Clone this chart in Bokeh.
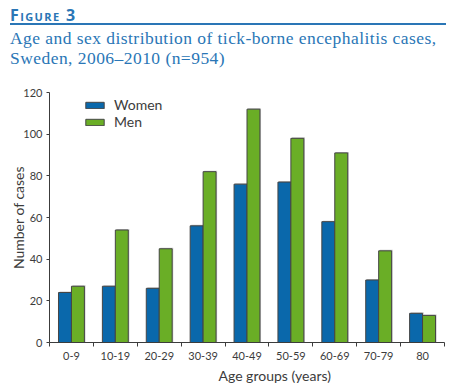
from bokeh.plotting import figure
from bokeh.models import Range1d, FixedTicker, Legend, LegendItem, ColumnDataSource, Title, Div
from bokeh.layouts import column
from bokeh.embed import file_html
from bokeh.resources import INLINE

# ---- data ----
age_groups = ["0-9", "10-19", "20-29", "30-39", "40-49", "50-59", "60-69", "70-79", "80"]
women = [24, 27, 26, 56, 76, 77, 58, 30, 14]
men = [27, 54, 45, 82, 112, 98, 91, 44, 13]
y_ticks = [0, 20, 40, 60, 80, 100, 120]

figure_label = "Figure 3"
subtitle = ["Age and sex distribution of tick-borne encephalitis cases,",
            "Sweden, 2006\u20132010 (n=954)"]
x_title = "Age groups (years)"
y_title = "Number of cases"

BLUE = "#0a68ab"
GREEN = "#6aae26"
TITLE_BLUE = "#2a76b6"
DARK = "#3c3c3c"
FONT = "Lato"

W = 467
HEAD_H = 84

# ---- header (HTML text) ----
head_html = f"""
<div style="position:relative;width:{W}px;height:{HEAD_H}px;">
  <div style="position:absolute;left:10px;top:7px;font-family:'Open Sans';font-weight:bold;
              font-variant:small-caps;font-size:16px;line-height:16px;letter-spacing:1.4px;
              color:{TITLE_BLUE};white-space:nowrap;">{figure_label}</div>
  <div style="position:absolute;left:10px;top:23px;width:436px;height:1.6px;background:{TITLE_BLUE};"></div>
  <div style="position:absolute;left:10px;top:28px;font-family:'Liberation Serif';font-size:17.5px;
              line-height:20px;letter-spacing:0.45px;color:{TITLE_BLUE};white-space:nowrap;">{subtitle[0]}<br>{subtitle[1]}</div>
</div>
"""
head = Div(text=head_html, width=W, height=HEAD_H, margin=0)

# ---- chart ----
n = len(age_groups)
centers = [i + 0.5 for i in range(n)]
bw = 0.295
src = ColumnDataSource(dict(
    xw=[c - bw / 2 for c in centers], xm=[c + bw / 2 for c in centers],
    women=women, men=men,
    xw_s=[c - bw / 2 + 0.025 for c in centers], xm_s=[c + bw / 2 + 0.025 for c in centers],
    women_s=[v + 0.5 for v in women], men_s=[v + 0.5 for v in men],
))

p = figure(width=W, height=390 - HEAD_H, x_range=Range1d(0, n), y_range=Range1d(0, y_ticks[-1]),
           output_backend="svg", toolbar_location=None,
           min_border_left=49, min_border_right=23, min_border_top=8, min_border_bottom=48,
           outline_line_color=None, margin=0)
p.grid.visible = False

p.vbar(x="xw_s", top="women_s", width=bw, bottom=0, fill_color="#c8c8c8", line_color=None, source=src)
p.vbar(x="xm_s", top="men_s", width=bw, bottom=0, fill_color="#c8c8c8", line_color=None, source=src)
rw = p.vbar(x="xw", top="women", width=bw, bottom=0, fill_color=BLUE, line_color="#454545",
            line_width=1, source=src)
rm = p.vbar(x="xm", top="men", width=bw, bottom=0, fill_color=GREEN, line_color="#454545",
            line_width=1, source=src)

legend = Legend(items=[LegendItem(label="Women", renderers=[rw]), LegendItem(label="Men", renderers=[rm])],
                location=(34, 212), glyph_width=23, glyph_height=8, label_standoff=8,
                label_height=14, spacing=0, padding=0, margin=0, border_line_color=None,
                background_fill_alpha=0, label_text_font=FONT, label_text_font_size="14px",
                label_text_color=DARK)
p.add_layout(legend)

xa = p.xaxis[0]
xa.ticker = FixedTicker(ticks=centers, minor_ticks=list(range(n + 1)))
xa.major_label_overrides = {c: lab for c, lab in zip(centers, age_groups)}
xa.major_tick_out = 0
xa.major_tick_in = 0
xa.minor_tick_out = 4
xa.minor_tick_in = 0
xa.minor_tick_line_color = DARK
xa.axis_line_color = DARK
xa.major_label_text_font = FONT
xa.major_label_text_font_size = "11px"
xa.major_label_text_color = DARK
xa.major_label_standoff = 5

ya = p.yaxis[0]
ya.ticker = FixedTicker(ticks=y_ticks)
ya.minor_tick_line_color = None
ya.major_tick_out = 3
ya.major_tick_in = 0
ya.major_tick_line_color = DARK
ya.axis_line_color = DARK
ya.major_label_text_font = FONT
ya.major_label_text_font_size = "11px"
ya.major_label_text_color = DARK
ya.major_label_standoff = 4
ya.axis_label = y_title
ya.axis_label_text_font = FONT
ya.axis_label_text_font_size = "14px"
ya.axis_label_text_font_style = "normal"
ya.axis_label_text_color = DARK
ya.axis_label_standoff = -7

p.add_layout(Title(text=x_title, align="left", offset=169, text_font=FONT, text_font_size="14px",
                   text_font_style="normal", text_color=DARK, standoff=4), "below")

layout = column(head, p, spacing=0)
open("out.html", "w").write(file_html(layout, INLINE))
